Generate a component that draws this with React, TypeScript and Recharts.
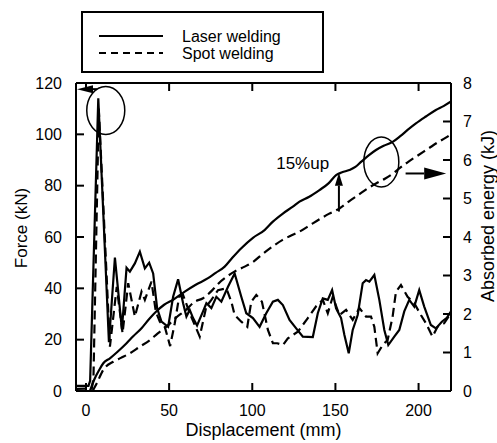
import React from "react";
import { LineChart, Line, XAxis, YAxis, ReferenceDot, ReferenceLine, Label } from "recharts";

// force (kN) vs displacement (mm), left axis
const laserForceDisp = [-5.5, 1.5, 2.5, 7.4, 13.8, 17.4, 21.6, 24.4, 26.4, 29.4, 32.4, 35.4, 38, 40.4, 42.8, 45.4, 49.4, 52.4, 55.4, 58.4, 60.4, 62.4, 64.4, 66.8, 70.4, 72.4, 75.4, 78.4, 81.4, 85.4, 89.4, 93.4, 96.4, 100.4, 104.4, 108.4, 112.4, 115.4, 118.4, 122.4, 126.4, 130.4, 136.4, 139.4, 142.4, 145.4, 148, 150.4, 153.4, 155.4, 158, 160.4, 163.4, 166.4, 168.4, 170.4, 173.4, 176.4, 179.4, 181.8, 185.4, 188.4, 191.4, 194.4, 197.4, 200.4, 203.4, 207.4, 210.4, 214, 217, 219.5];
const laserForce = [2, 2, 4, 114, 19, 52, 24, 48, 46.5, 49.7, 54.3, 47.8, 50, 45.8, 32.2, 27, 25, 36.7, 43.5, 34.2, 29, 31.6, 28.4, 25.5, 31, 34.2, 32.3, 36.7, 34.8, 40.6, 45.8, 36.7, 30.3, 28.4, 25, 30.3, 34.8, 35.5, 33.5, 27.7, 24.4, 21.2, 21, 30.3, 36.1, 35.5, 39.3, 32.2, 28.4, 21.8, 14.7, 23.8, 29.6, 42, 43.2, 42.6, 45.2, 35.5, 23.8, 17.9, 21.2, 23.8, 31, 35.5, 32.9, 39.3, 32.9, 25.7, 24.4, 27, 28.5, 31];

const spotForceDisp = [-5.5, 3.5, 4.5, 7.7, 14.4, 18.5, 22, 25.4, 29.4, 33.4, 35.4, 39.4, 42, 44.4, 47.4, 50.6, 53.4, 56, 58.4, 62.4, 68.4, 72.4, 75.4, 79.4, 84.4, 87.4, 89.4, 93.4, 97, 99.4, 102.4, 105.8, 109.4, 112.4, 115, 118.4, 121.4, 127.4, 133.4, 138.4, 142.4, 145.4, 148.4, 152.4, 156.4, 160.4, 164.4, 168.4, 171.4, 173.4, 175.4, 178.4, 181.4, 184.4, 186.4, 189.4, 193.4, 197.4, 201.4, 204.4, 208.4, 211.4, 215.4, 219.4];
const spotForce = [0.8, 1, 5, 110, 17.3, 40.6, 22.5, 42, 29, 38.7, 35.5, 42.6, 30.9, 27, 25, 17.5, 26.4, 36.7, 37.4, 30.3, 21.2, 33, 35.5, 39.3, 40, 34.8, 29.6, 27, 25, 34.8, 37.4, 34.8, 23.8, 18.6, 18.6, 17.9, 20.5, 23.1, 28.4, 33, 35.5, 30.3, 36.7, 29.6, 31.6, 27.7, 32.3, 29, 29, 25, 14.7, 17.9, 19.9, 29, 38.7, 41.3, 36.7, 34.2, 29.6, 26.4, 21.2, 25, 26.4, 30.3];

// absorbed energy (kJ) vs displacement (mm), right axis
const laserEnergyDisp = [2.4, 5, 8, 10.4, 14.4, 19, 24.4, 28.4, 33.4, 38, 42.4, 47, 52.4, 59.4, 66, 73.4, 78, 83.4, 88, 93.4, 100.4, 107.4, 112.4, 118.4, 124.4, 128.4, 134, 140.4, 146, 150.4, 154, 158.4, 162, 165.4, 170, 174.4, 179, 184.4, 189, 193.4, 198.4, 204.4, 210.4, 215, 219.5];
const laserEnergy = [0, 0.3, 0.55, 0.72, 0.85, 1.02, 1.24, 1.42, 1.63, 1.87, 2.07, 2.24, 2.37, 2.58, 2.76, 2.93, 3.07, 3.23, 3.46, 3.71, 3.98, 4.18, 4.4, 4.61, 4.79, 4.92, 5.04, 5.22, 5.4, 5.61, 5.68, 5.74, 5.82, 5.95, 6.12, 6.26, 6.37, 6.47, 6.62, 6.78, 6.95, 7.13, 7.3, 7.4, 7.52];

const spotEnergyDisp = [4, 6.5, 10.4, 16.4, 21, 26.4, 32, 38.4, 43, 48.4, 54, 60, 65.4, 70.4, 76, 79.4, 85, 90, 95.4, 100.4, 106, 113.4, 118, 124, 128.4, 134.4, 140.4, 146, 152.4, 158, 164, 169, 174.4, 180, 184, 188.4, 194, 200, 206, 212, 216.4, 219.5];
const spotEnergy = [0, 0.2, 0.55, 0.76, 0.86, 0.98, 1.14, 1.32, 1.49, 1.67, 1.9, 2.1, 2.32, 2.41, 2.62, 2.78, 2.98, 3.12, 3.23, 3.35, 3.55, 3.79, 3.92, 4.05, 4.14, 4.3, 4.46, 4.6, 4.74, 4.92, 5.1, 5.25, 5.39, 5.52, 5.63, 5.78, 5.96, 6.13, 6.3, 6.47, 6.58, 6.67];

const dispTicks = [0, 50, 100, 150, 200];
const forceTicks = [0, 20, 40, 60, 80, 100, 120];
const energyTicks = [0, 1, 2, 3, 4, 5, 6, 7, 8];

const legendItems = [
  { name: "Laser welding", dash: undefined },
  { name: "Spot welding", dash: "7 5" },
];

const FONT = "'Liberation Sans', Arial, sans-serif";
const DASH = "9 5";
const LW = 2.2;
const X_DOMAIN: [number, number] = [-6, 219.5];

const zip = (xs: number[], ys: number[]) => xs.map((d, i) => ({ d, v: ys[i] }));

function Arrow(props: any) {
  const { x1, y1, x2, y2, head, half } = props;
  const a = Math.atan2(y2 - y1, x2 - x1);
  const bx = x2 - head * Math.cos(a);
  const by = y2 - head * Math.sin(a);
  const px = -Math.sin(a) * half;
  const py = Math.cos(a) * half;
  return (
    <g>
      <line x1={x1} y1={y1} x2={bx} y2={by} stroke="#000" strokeWidth={2} />
      <polygon points={`${x2},${y2} ${bx + px},${by + py} ${bx - px},${by - py}`} fill="#000" />
    </g>
  );
}

// inward tick marks: short stubs at the ends of a full-height / full-width reference line
function VStubs(props: any) {
  const { x1, y1, y2, len } = props;
  const top = Math.min(y1, y2);
  const bot = Math.max(y1, y2);
  return (
    <g>
      <line x1={x1} x2={x1} y1={top} y2={top + len} stroke="#000" strokeWidth={2} />
      <line x1={x1} x2={x1} y1={bot} y2={bot - len} stroke="#000" strokeWidth={2} />
    </g>
  );
}
function HStub(props: any) {
  const { x1, x2, y1, side, len } = props;
  const left = Math.min(x1, x2);
  const right = Math.max(x1, x2);
  return side === "left" ? (
    <line x1={left} x2={left + len} y1={y1} y2={y1} stroke="#000" strokeWidth={2} />
  ) : (
    <line x1={right} x2={right - len} y1={y1} y2={y1} stroke="#000" strokeWidth={2} />
  );
}

const axisLine = { stroke: "#000", strokeWidth: 2 };
const tickStyle = { fill: "#000", fontSize: 16, fontFamily: FONT };

export default function App() {
  return (
    <div style={{ position: "absolute", left: 0, top: 0, width: 497, height: 443, background: "#fff" }}>
      <LineChart width={497} height={443} margin={{ top: 82, right: 0, bottom: 0, left: 0 }}>
        <XAxis xAxisId="bottom" dataKey="d" type="number" domain={X_DOMAIN} allowDataOverflow ticks={dispTicks}
          height={52} axisLine={axisLine} tickLine={false} tickMargin={8} tick={tickStyle}>
          <Label
            content={({ viewBox }: any) => (
              <text x={viewBox.x + viewBox.width / 2} y={viewBox.y + viewBox.height - 7} textAnchor="middle" fontSize={18} fontFamily={FONT} fill="#000">
                Displacement (mm)
              </text>
            )}
          />
        </XAxis>
        <XAxis xAxisId="top" orientation="top" type="number" domain={X_DOMAIN} allowDataOverflow ticks={dispTicks}
          height={1} axisLine={axisLine} tickLine={false} tick={false} />
        <YAxis yAxisId="left" domain={[0, 120]} allowDataOverflow ticks={forceTicks} width={76}
          axisLine={axisLine} tickLine={false} tickMargin={8} tick={tickStyle}>
          <Label
            content={({ viewBox }: any) => {
              const x = viewBox.x + 21;
              const y = viewBox.y + viewBox.height / 2 - 9;
              return (
                <text x={x} y={y} transform={`rotate(-90 ${x} ${y})`} textAnchor="middle" dominantBaseline="central" fontSize={17} fontFamily={FONT} fill="#000">
                  Force (kN)
                </text>
              );
            }}
          />
        </YAxis>
        <YAxis yAxisId="right" orientation="right" domain={[0, 8]} allowDataOverflow ticks={energyTicks} width={46}
          axisLine={axisLine} tickLine={false} tickMargin={6} tick={tickStyle}>
          <Label
            content={({ viewBox }: any) => {
              const x = viewBox.x + viewBox.width - 9;
              const y = viewBox.y + viewBox.height / 2 - 21;
              return (
                <text x={x} y={y} transform={`rotate(-90 ${x} ${y})`} textAnchor="middle" dominantBaseline="central" fontSize={18} fontFamily={FONT} fill="#000">
                  Absorbed energy (kJ)
                </text>
              );
            }}
          />
        </YAxis>

        {/* tick marks pointing into the frame */}
        {dispTicks.map((t) => (
          <ReferenceLine key={`x${t}`} xAxisId="bottom" yAxisId="left" x={t} shape={(p: any) => <VStubs {...p} len={8} />} />
        ))}
        {forceTicks.map((t) => (
          <ReferenceLine key={`l${t}`} xAxisId="bottom" yAxisId="left" y={t} shape={(p: any) => <HStub {...p} side="left" len={8} />} />
        ))}
        {energyTicks.map((t) => (
          <ReferenceLine key={`r${t}`} xAxisId="bottom" yAxisId="right" y={t} shape={(p: any) => <HStub {...p} side="right" len={8} />} />
        ))}

        <Line xAxisId="bottom" yAxisId="left" data={zip(laserForceDisp, laserForce)} dataKey="v" name="Laser welding force" type="linear" stroke="#000" strokeWidth={LW} dot={false} activeDot={false} isAnimationActive={false} />
        <Line xAxisId="bottom" yAxisId="left" data={zip(spotForceDisp, spotForce)} dataKey="v" name="Spot welding force" type="linear" stroke="#000" strokeWidth={LW} strokeDasharray={DASH} dot={false} activeDot={false} isAnimationActive={false} />
        <Line xAxisId="bottom" yAxisId="right" data={zip(laserEnergyDisp, laserEnergy)} dataKey="v" name="Laser welding energy" type="monotone" stroke="#000" strokeWidth={LW} dot={false} activeDot={false} isAnimationActive={false} />
        <Line xAxisId="bottom" yAxisId="right" data={zip(spotEnergyDisp, spotEnergy)} dataKey="v" name="Spot welding energy" type="monotone" stroke="#000" strokeWidth={LW} strokeDasharray={DASH} dot={false} activeDot={false} isAnimationActive={false} />

        {/* annotations */}
        <ReferenceDot xAxisId="bottom" yAxisId="left" x={11.9} y={109.3}
          shape={(p: any) => <ellipse cx={p.cx} cy={p.cy} rx={19} ry={24} fill="none" stroke="#000" strokeWidth={1.5} />} />
        <ReferenceLine xAxisId="bottom" yAxisId="left" segment={[{ x: 6.6, y: 117.6 }, { x: -5.4, y: 117.6 }]}
          shape={(p: any) => <Arrow {...p} head={16} half={4} />} />
        <ReferenceDot xAxisId="bottom" yAxisId="right" x={177.6} y={5.95}
          shape={(p: any) => <ellipse cx={p.cx} cy={p.cy} rx={17.5} ry={25} fill="none" stroke="#000" strokeWidth={1.5} />} />
        <ReferenceLine xAxisId="bottom" yAxisId="right" segment={[{ x: 192.2, y: 5.65 }, { x: 216.6, y: 5.65 }]}
          shape={(p: any) => <Arrow {...p} head={22} half={6} />} />
        <ReferenceLine xAxisId="bottom" yAxisId="right" segment={[{ x: 152.1, y: 4.66 }, { x: 152.1, y: 5.67 }]}
          shape={(p: any) => <Arrow {...p} head={13} half={4} />} />
        <ReferenceDot xAxisId="bottom" yAxisId="left" x={130.3} y={88.8}
          shape={(p: any) => (
            <text x={p.cx} y={p.cy} textAnchor="middle" dominantBaseline="central" fontSize={17} fontFamily={FONT} fill="#000">15%up</text>
          )} />
      </LineChart>

      <svg width={243} height={62} style={{ position: "absolute", left: 81, top: 11 }}>
        <rect x={1} y={1} width={241} height={60} fill="#fff" stroke="#000" strokeWidth={2} />
        {legendItems.map((it, i) => (
          <g key={it.name}>
            <line x1={18} x2={82} y1={25 + i * 17} y2={25 + i * 17} stroke="#000" strokeWidth={2} strokeDasharray={it.dash} />
            <text x={101} y={30.5 + i * 17} fontSize={16} fontFamily={FONT} fill="#000">{it.name}</text>
          </g>
        ))}
      </svg>
    </div>
  );
}
